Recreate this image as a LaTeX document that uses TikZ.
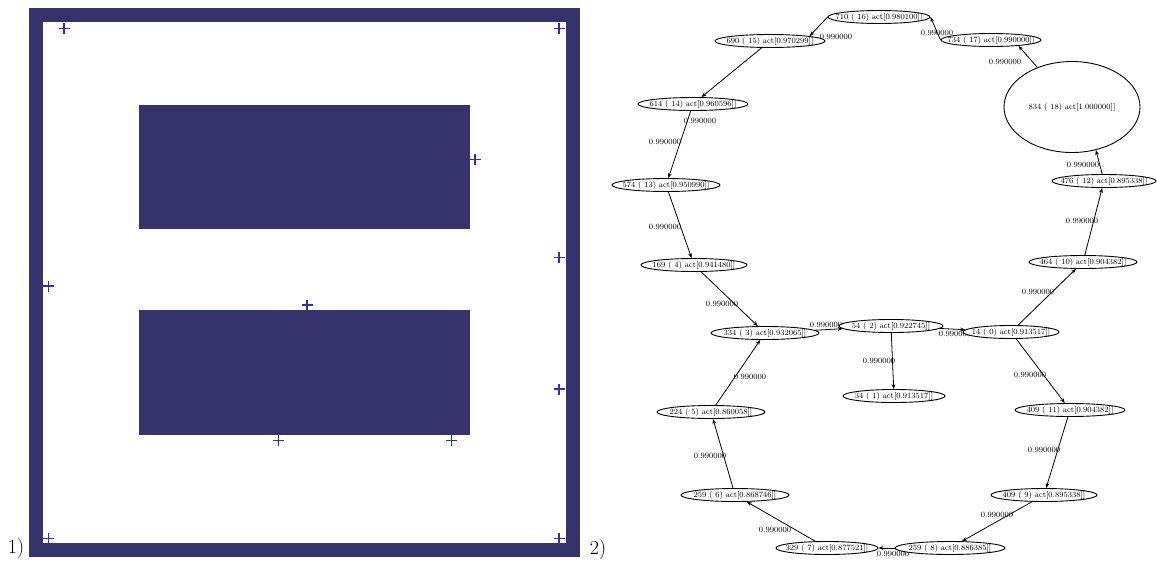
\documentclass[tikz,border=0pt]{standalone}
\usetikzlibrary{shapes.geometric,arrows.meta}
\definecolor{navy}{RGB}{54,51,108}
\definecolor{plusblue}{RGB}{50,50,165}
\begin{document}
\begin{tikzpicture}[x=1pt,y=-1pt,
  st/.style={ellipse,draw,line width=0.9pt,fill=white,inner sep=0pt,minimum height=13pt,font=\fontsize{8}{9}\selectfont},
  bigst/.style={st,minimum width=136pt,minimum height=91pt},
  lbl/.style={inner sep=0pt,font=\fontsize{8}{9}\selectfont},
  conn/.style={draw,line width=0.8pt,-{Stealth[length=5pt,width=3.8pt]}},
  plusmark/.style={draw=plusblue,line width=1.4pt},
  panel/.style={inner sep=0pt,font=\fontsize{20}{20}\selectfont}]
\useasboundingbox (0,0) rectangle (1157,563);
% ---------- panel 1 ----------
\fill[navy] (28.5,8) rectangle (580,557);
\fill[white] (43,22) rectangle (565.5,543);
\fill[navy] (138.5,104.5) rectangle (470,229);
\fill[navy] (138.5,310) rectangle (470,434.5);
\foreach \x/\y in {64/28.5,559/28.5,475/159.5,559/257.5,48.5/286,307/305,559/389,278.5/440.5,451.5/440.5,48.5/538.5,559/538.5}
  {\draw[plusmark] (\x-5.5,\y) -- (\x+5.5,\y) (\x,\y-5.5) -- (\x,\y+5.5);}
\node[panel] (p1) at (16,549) {1)};
\node[panel] (p2) at (598,550) {2)};
% ---------- panel 2: edge labels ----------
\node[lbl] (l1) at (836,37) {0.990000};
\node[lbl] (l2) at (937,33) {0.990000};
\node[lbl] (l3) at (1005,62) {0.990000};
\node[lbl] (l4) at (1083,165) {0.990000};
\node[lbl] (l5) at (1082,221) {0.990000};
\node[lbl] (l6) at (1038,292) {0.990000};
\node[lbl] (l7) at (955,334) {0.990000};
\node[lbl] (l8) at (826,325) {0.990000};
\node[lbl] (l9) at (879,361) {0.990000};
\node[lbl] (l10) at (722,304) {0.990000};
\node[lbl] (l11) at (750,377) {0.990000};
\node[lbl] (l12) at (710,456) {0.990000};
\node[lbl] (l13) at (775,530) {0.990000};
\node[lbl] (l14) at (893,554) {0.990000};
\node[lbl] (l15) at (997,515) {0.990000};
\node[lbl] (l16) at (1044,450) {0.990000};
\node[lbl] (l17) at (1030,375) {0.990000};
\node[lbl] (l18) at (700,121) {0.990000};
\node[lbl] (l19) at (665,142) {0.990000};
\node[lbl] (l20) at (665,227) {0.990000};
% ---------- panel 2: states ----------
\node[st,minimum width=102pt] (n710) at (879,17) {\makebox[0pt]{710 ( 16) act[0.980100]]}};
\node[st,minimum width=110pt] (n690) at (770,41) {\makebox[0pt]{690 ( 15) act[0.970299]]}};
\node[st,minimum width=100pt] (n734) at (991,40) {\makebox[0pt]{734 ( 17) act[0.990000]]}};
\node[bigst] (n834) at (1072,107) {\makebox[0pt]{834 ( 18) act[1.000000]]}};
\node[st,minimum width=104pt] (n476) at (1104,181) {\makebox[0pt]{476 ( 12) act[0.895338]]}};
\node[st,minimum width=108pt] (n464) at (1083,262) {\makebox[0pt]{464 ( 10) act[0.904382]]}};
\node[st,minimum width=96pt] (n14) at (1011,332) {\makebox[0pt]{14 ( 0) act[0.913517]]}};
\node[st,minimum width=104pt] (n54) at (891,326) {\makebox[0pt]{54 ( 2) act[0.922745]]}};
\node[st,minimum width=102pt] (n34) at (894,396) {\makebox[0pt]{34 ( 1) act[0.913517]]}};
\node[st,minimum width=108pt] (n334) at (765,333) {\makebox[0pt]{334 ( 3) act[0.932065]]}};
\node[st,minimum width=106pt] (n169) at (694,265) {\makebox[0pt]{169 ( 4) act[0.941480]]}};
\node[st,minimum width=108pt] (n574) at (666,185) {\makebox[0pt]{574 ( 13) act[0.950990]]}};
\node[st,minimum width=110pt] (n614) at (693,104) {\makebox[0pt]{614 ( 14) act[0.960596]]}};
\node[st,minimum width=108pt] (n224) at (711,412) {\makebox[0pt]{224 ( 5) act[0.860058]]}};
\node[st,minimum width=108pt] (n259a) at (735,495) {\makebox[0pt]{259 ( 6) act[0.868746]]}};
\node[st,minimum width=102pt] (n329) at (827,548) {\makebox[0pt]{329 ( 7) act[0.877521]]}};
\node[st,minimum width=110pt] (n259b) at (950,548) {\makebox[0pt]{259 ( 8) act[0.886385]]}};
\node[st,minimum width=106pt] (n409a) at (1044,495) {\makebox[0pt]{409 ( 9) act[0.895338]]}};
\node[st,minimum width=110pt] (n409b) at (1070,410) {\makebox[0pt]{409 ( 11) act[0.904382]]}};
% ---------- panel 2: connectors ----------
\draw[conn] (n834) -- (n734.348);
\draw[conn] (n734.west) -- (n710.east);
\draw[conn] (n710.west) -- (n690.7);
\draw[conn] (n690) -- (n614);
\draw[conn] (n614) -- (n574);
\draw[conn] (n574) -- (n169);
\draw[conn] (n169) -- (n334);
\draw[conn] (n224) -- (n334);
\draw[conn] (n259a) -- (n224);
\draw[conn] (n329) -- (n259a);
\draw[conn] (n259b) -- (n329);
\draw[conn] (n409a) -- (n259b);
\draw[conn] (n409b) -- (n409a);
\draw[conn] (n14) -- (n409b);
\draw[conn] (n14) -- (n464);
\draw[conn] (n464) -- (n476);
\draw[conn] (n476) -- (n834.299);
\draw[conn] (n334) -- (n54);
\draw[conn] (n54) -- (n14);
\draw[conn] (n54) -- (n34);
\end{tikzpicture}
\end{document}
